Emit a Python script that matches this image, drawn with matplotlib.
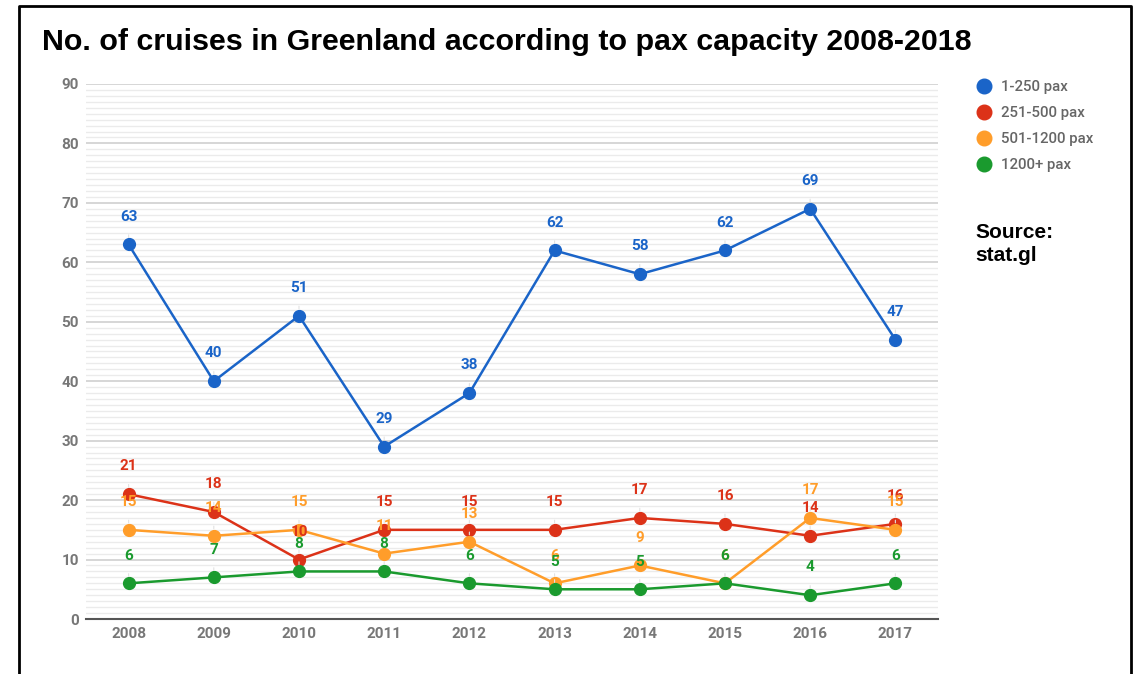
import matplotlib.pyplot as plt
from matplotlib.lines import Line2D

plt.rcParams['font.family'] = ['Roboto', 'DejaVu Sans']

# data
years = ["2008", "2009", "2010", "2011", "2012", "2013", "2014", "2015", "2016", "2017"]
pax_1_250 = [63, 40, 51, 29, 38, 62, 58, 62, 69, 47]
pax_251_500 = [21, 18, 10, 15, 15, 15, 17, 16, 14, 16]
pax_501_1200 = [15, 14, 15, 11, 13, 6, 9, 6, 17, 15]
pax_1200_plus = [6, 7, 8, 8, 6, 5, 5, 6, 4, 6]

series_names = ["1-250 pax", "251-500 pax", "501-1200 pax", "1200+ pax"]
series_values = [pax_1_250, pax_251_500, pax_501_1200, pax_1200_plus]
colors = ["#1a64c8", "#dc3218", "#ff9d2a", "#1a9a2e"]

fig = plt.figure(figsize=(11.39, 6.74), dpi=100)
ax = fig.add_axes([0.0755, 0.0816, 0.748, 0.7938])

x = list(range(len(years)))

# lines + markers
for vals, c in zip(series_values, colors):
    ax.plot(x, vals, color=c, lw=1.8, marker="o", markersize=8.5, zorder=3)

# data labels with leader lines
for vals, c in zip(series_values, colors):
    for xi, v in zip(x, vals):
        ax.annotate(str(v), xy=(xi, v), xytext=(0, 20), textcoords="offset points",
                    ha="center", va="center", fontsize=11, fontweight="bold",
                    color=c, zorder=5,
                    arrowprops=dict(arrowstyle="-", color="#e2e2e2", lw=0.8,
                                    shrinkA=6, shrinkB=5))

ax.set_xlim(-0.5, 9.5)
ax.set_ylim(0, 90)
ax.set_xticks(x)
ax.set_xticklabels(years)
ax.set_yticks(range(0, 91, 10))
ax.set_yticks(range(0, 91, 1), minor=True)

ax.grid(which="minor", axis="y", color="#ebebeb", lw=1.0)
ax.grid(which="major", axis="y", color="#cfcfcf", lw=1.2)
ax.set_axisbelow(True)

for s in ["top", "right", "left"]:
    ax.spines[s].set_visible(False)
ax.spines["bottom"].set_color("#555555")
ax.spines["bottom"].set_linewidth(1.5)
ax.spines["bottom"].set_zorder(2)

ax.tick_params(axis="both", length=0, labelsize=11, labelcolor="#777777")
ax.tick_params(axis="y", which="minor", length=0)
ax.tick_params(axis="y", pad=5)
ax.tick_params(axis="x", pad=6)
for lab in ax.get_xticklabels() + ax.get_yticklabels():
    lab.set_fontweight("bold")

# legend
handles = [Line2D([], [], ls="none", marker="o", markersize=10.5, color=c) for c in colors]
leg = fig.legend(handles, series_names, loc="upper left", bbox_to_anchor=(0.851, 0.89),
                 frameon=False, fontsize=10.8, handletextpad=0.5, labelspacing=0.8,
                 handlelength=1.2, borderaxespad=0)
for t in leg.get_texts():
    t.set_color("#666666")
    t.set_fontweight("medium")

# title and source
fig.text(0.037, 0.937, "No. of cruises in Greenland according to pax capacity 2008-2018",
         fontsize=21.9, fontweight="bold", family=["Liberation Sans", "DejaVu Sans"],
         color="black", va="center", ha="left")
fig.text(0.856, 0.638, "Source:\nstat.gl", fontsize=15, fontweight="bold",
         family=["Liberation Sans", "DejaVu Sans"], color="black", va="center",
         ha="left", linespacing=1.3)

# frame around the picture (open at the bottom)
fig.add_artist(Line2D([0.0167, 0.0167, 0.9930, 0.9930], [0.0, 0.991, 0.991, 0.0],
                      transform=fig.transFigure, color="black", lw=2))

fig.savefig("out.png", dpi=100)
